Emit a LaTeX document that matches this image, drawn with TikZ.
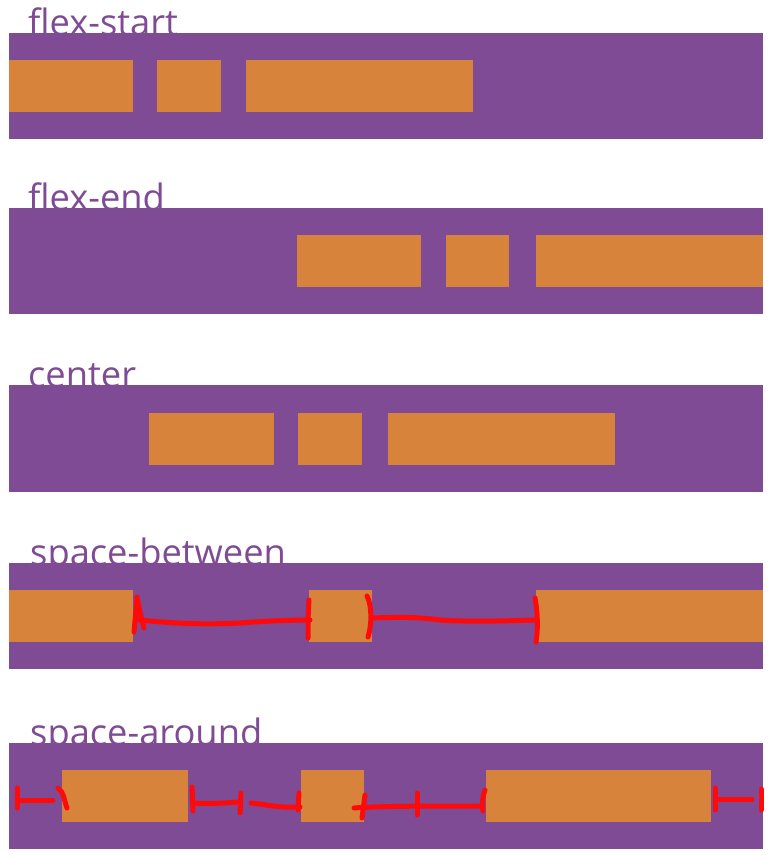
\documentclass[tikz,border=0pt]{standalone}
\usepackage{fontspec}
\setmainfont{Open Sans}
\definecolor{flexpurple}{RGB}{127,75,148}
\definecolor{flexorange}{RGB}{216,131,59}
\definecolor{markred}{RGB}{255,10,10}
\begin{document}
\begin{tikzpicture}[x=1pt,y=-1pt,
  lbl/.style={anchor=base west,inner sep=0pt,text=flexpurple,font=\fontsize{36.3}{44}\selectfont},
  bar/.style={fill=flexpurple},
  item/.style={fill=flexorange},
  redmark/.style={draw=markred,line width=5pt,line cap=round,line join=round}]
\useasboundingbox[fill=white] (0,0) rectangle (773,855);
% labels (drawn first so bars overlap their bottoms)
\node[lbl] (l1) at (28,35) {flex-start};
\node[lbl] (l2) at (28,210) {flex-end};
\node[lbl] (l3) at (28,387) {center};
\node[lbl] (l4) at (30,565) {space-between};
\node[lbl] (l5) at (30,745) {space-around};
% flex-start
\fill[bar] (9,33) rectangle (763,139);
\fill[item] (9,60) rectangle (133,112);
\fill[item] (157,60) rectangle (221,112);
\fill[item] (246,60) rectangle (473,112);
% flex-end
\fill[bar] (9,208) rectangle (763,314);
\fill[item] (297,235) rectangle (421,287);
\fill[item] (446,235) rectangle (509,287);
\fill[item] (536,235) rectangle (763,287);
% center
\fill[bar] (9,385) rectangle (763,492);
\fill[item] (149,413) rectangle (274,465);
\fill[item] (298,413) rectangle (362,465);
\fill[item] (388,413) rectangle (615,465);
% space-between
\fill[bar] (9,563) rectangle (763,669);
\fill[item] (9,590) rectangle (133,642);
\fill[item] (309,590) rectangle (372,642);
\fill[item] (536,590) rectangle (763,642);
% space-around
\fill[bar] (9,743) rectangle (763,849);
\fill[item] (62,770) rectangle (188,822);
\fill[item] (301,770) rectangle (364,822);
\fill[item] (486,770) rectangle (711,822);
% red marks: space-between
\draw[redmark] (134,632) -- (136,610) -- (137,597) -- (140,612) -- (144,628);
\draw[redmark] (139,620) .. controls (170,623) and (200,625) .. (240,623) .. controls (265,621) and (290,620) .. (310,620);
\draw[redmark] (309,600) .. controls (308,615) and (308,625) .. (308,638);
\draw[redmark] (367,596) .. controls (372,605) and (372,625) .. (368,637);
\draw[redmark] (371,618) .. controls (400,617) and (420,617) .. (440,620) .. controls (470,622) and (500,621) .. (535,620);
\draw[redmark] (535,598) .. controls (538,615) and (538,630) .. (536,642);
% red marks: space-around
\draw[redmark] (17,788) -- (17,808);
\draw[redmark] (17,800) -- (53,800);
\draw[redmark] (58,788) .. controls (64,792) and (64,800) .. (67,808);
\draw[redmark] (192,787) -- (193,811);
\draw[redmark] (193,803) .. controls (210,804) and (225,803) .. (239,802);
\draw[redmark] (241,793) -- (240,813);
\draw[redmark] (251,803) .. controls (265,804) and (275,808) .. (300,807);
\draw[redmark] (299,793) -- (298,810);
\draw[redmark] (365,795) -- (362,818);
\draw[redmark] (354,808) .. controls (380,806) and (430,806) .. (482,806);
\draw[redmark] (417,793) -- (417,815);
\draw[redmark] (485,790) .. controls (482,797) and (482,805) .. (483,811);
\draw[redmark] (715,788) -- (715,810);
\draw[redmark] (716,799) -- (752,799);
\draw[redmark] (761,789) -- (761,810);
\end{tikzpicture}
\end{document}
